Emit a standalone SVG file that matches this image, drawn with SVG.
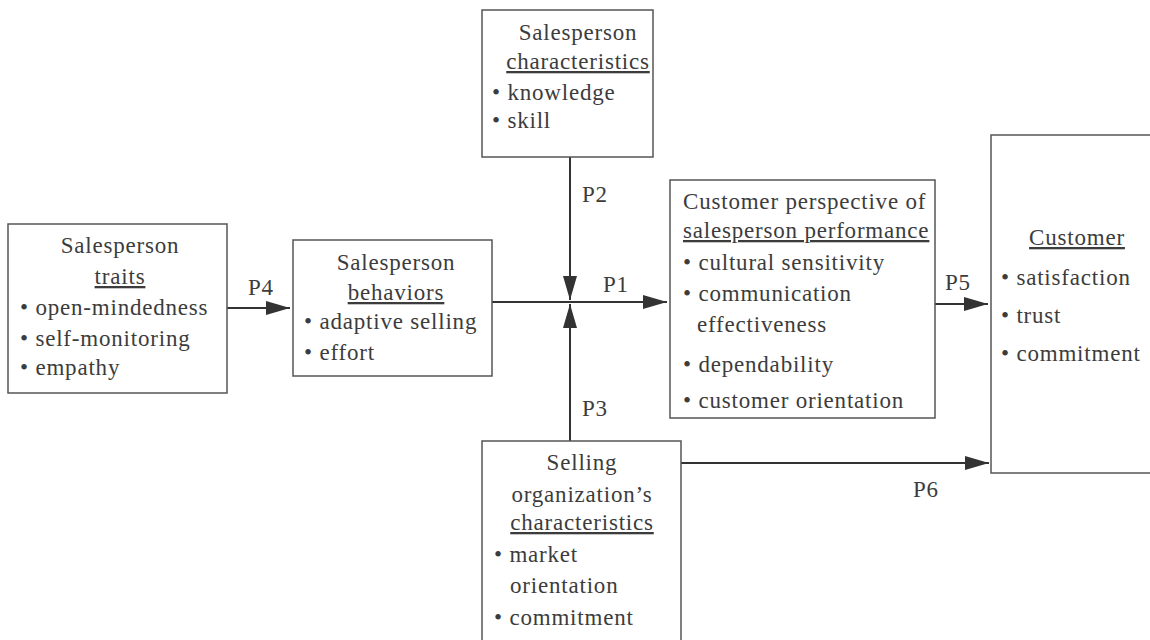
<svg xmlns="http://www.w3.org/2000/svg" width="1150" height="640" viewBox="0 0 1150 640">
<style>
.box{fill:#fff;stroke:#555;stroke-width:1.5}
.t{font-size:23px;fill:#3c3c3c;letter-spacing:0.8px}
.c{text-anchor:middle}
.u{text-decoration:underline}
.con{stroke:#333;stroke-width:2;fill:none}
</style>
<defs>
<marker id="ah" markerUnits="userSpaceOnUse" markerWidth="24" markerHeight="14" refX="24" refY="7" orient="auto">
<path d="M0,0 L24,7 L0,14 z" fill="#333"/>
</marker>
<clipPath id="cpClip"><rect x="670" y="180" width="265" height="238"/></clipPath>
</defs>
<rect width="1150" height="640" fill="#fff"/>
<g font-family="Liberation Serif, Times New Roman, DejaVu Serif, serif">
<g id="connectors">
<line class="con" x1="227" y1="308" x2="290" y2="308" marker-end="url(#ah)"/>
<line class="con" x1="492" y1="302" x2="667" y2="302" marker-end="url(#ah)"/>
<line class="con" x1="570" y1="157" x2="570" y2="300" marker-end="url(#ah)"/>
<line class="con" x1="570" y1="441" x2="570" y2="304" marker-end="url(#ah)"/>
<line class="con" x1="935" y1="304" x2="988" y2="304" marker-end="url(#ah)"/>
<line class="con" x1="681" y1="463" x2="989" y2="463" marker-end="url(#ah)"/>
<text class="t" x="248" y="295">P4</text>
<text class="t" x="603" y="292">P1</text>
<text class="t" x="582" y="202">P2</text>
<text class="t" x="582" y="416">P3</text>
<text class="t" x="945" y="290">P5</text>
<text class="t" x="913" y="497">P6</text>
</g>

<g id="traits">
<rect class="box" x="8" y="224" width="219" height="169"/>
<text class="t c" x="120" y="253">Salesperson</text>
<text class="t c u" x="120" y="284">traits</text>
<text class="t" x="20" y="315">• open-mindedness</text>
<text class="t" x="20" y="346">• self-monitoring</text>
<text class="t" x="20" y="375">• empathy</text>
</g>

<g id="behaviors">
<rect class="box" x="293" y="240" width="199" height="136"/>
<text class="t c" x="396" y="270">Salesperson</text>
<text class="t c u" x="396" y="300">behaviors</text>
<text class="t" x="304" y="329">• adaptive selling</text>
<text class="t" x="304" y="360">• effort</text>
</g>

<g id="characteristics">
<rect class="box" x="482" y="10" width="171" height="147"/>
<text class="t c" x="578" y="40">Salesperson</text>
<text class="t c u" x="578" y="69">characteristics</text>
<text class="t" x="492" y="100">• knowledge</text>
<text class="t" x="492" y="128">• skill</text>
</g>

<g id="perspective">
<rect class="box" x="670" y="180" width="265" height="238"/>
<g clip-path="url(#cpClip)">
<text class="t" x="683" y="209">Customer perspective of</text>
<text class="t u" x="683" y="238">salesperson performance</text>
<text class="t" x="683" y="270">• cultural sensitivity</text>
<text class="t" x="683" y="301">• communication</text>
<text class="t" x="697" y="332">effectiveness</text>
<text class="t" x="683" y="372">• dependability</text>
<text class="t" x="683" y="408">• customer orientation</text>
</g>
</g>

<g id="customer">
<rect class="box" x="991" y="135" width="175" height="338"/>
<text class="t c u" x="1077" y="245">Customer</text>
<text class="t" x="1001" y="285">• satisfaction</text>
<text class="t" x="1001" y="323">• trust</text>
<text class="t" x="1001" y="361">• commitment</text>
</g>

<g id="organization">
<rect class="box" x="482" y="441" width="199" height="215"/>
<text class="t c" x="582" y="470">Selling</text>
<text class="t c" x="582" y="502">organization’s</text>
<text class="t c u" x="582" y="530">characteristics</text>
<text class="t" x="494" y="562">• market</text>
<text class="t" x="510" y="593">orientation</text>
<text class="t" x="494" y="625">• commitment</text>
</g>
</g>
</svg>
